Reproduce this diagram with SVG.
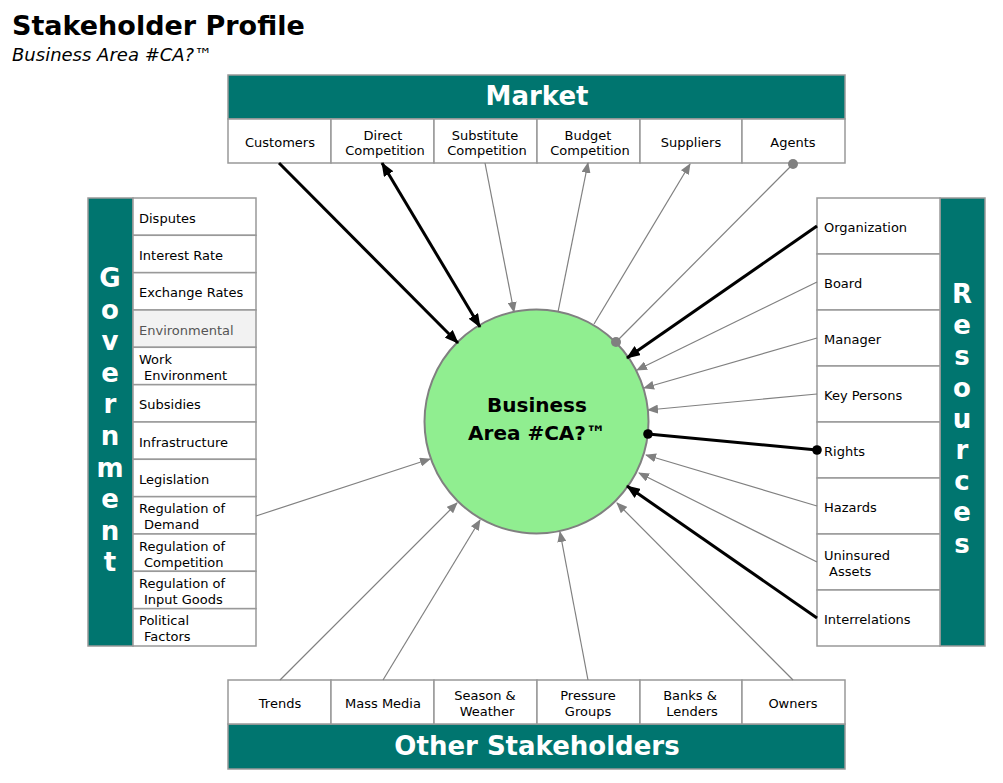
<svg xmlns="http://www.w3.org/2000/svg" width="1003" height="783" viewBox="0 0 1003 783">
<style>
text{font-family:"DejaVu Sans",Verdana,sans-serif}
.bar{fill:#00756F;stroke:#999;stroke-width:1.5}
.cell{fill:#fff;stroke:#999;stroke-width:1.5}
.cellg{fill:#f2f2f2;stroke:#999;stroke-width:1.5}
.ct{font-size:13px;fill:#000;text-anchor:middle}
.lt{font-size:13px;fill:#000}
.hd{font-size:26px;font-weight:bold;fill:#fff;text-anchor:middle}
.vt{font-size:26px;font-weight:bold;fill:#fff;text-anchor:middle}
.thin{stroke:#808080;stroke-width:1.2;fill:none}
.thick{stroke:#000;stroke-width:3;fill:none}
</style>
<defs>
<marker id="ag" markerUnits="userSpaceOnUse" markerWidth="11" markerHeight="9" refX="10" refY="4.5" orient="auto-start-reverse" viewBox="0 0 11 9"><path d="M0,0 L11,4.5 L0,9 z" fill="#808080"/></marker>
<marker id="ab" markerUnits="userSpaceOnUse" markerWidth="14" markerHeight="11" refX="13" refY="5.5" orient="auto-start-reverse" viewBox="0 0 14 11"><path d="M0,0 L14,5.5 L0,11 z" fill="#000"/></marker>
<marker id="dg" markerUnits="userSpaceOnUse" markerWidth="12" markerHeight="12" refX="6" refY="6" viewBox="0 0 12 12"><circle cx="6" cy="6" r="5" fill="#808080"/></marker>
<marker id="db" markerUnits="userSpaceOnUse" markerWidth="12" markerHeight="12" refX="6" refY="6" viewBox="0 0 12 12"><circle cx="6" cy="6" r="4.8" fill="#000"/></marker>
</defs>
<rect width="1003" height="783" fill="#fff"/>
<g id="title">
<text x="12" y="35" font-size="27" font-weight="bold" fill="#000">Stakeholder Profile</text>
<text x="12" y="61" font-size="18" font-style="italic" fill="#000">Business Area #CA?™</text>
</g>
<g id="market">
<rect class="bar" x="228" y="75" width="617" height="44"/>
<text class="hd" x="537" y="105">Market</text>
<rect class="cell" x="228" y="119" width="103" height="44"/>
<rect class="cell" x="331" y="119" width="103" height="44"/>
<rect class="cell" x="434" y="119" width="103" height="44"/>
<rect class="cell" x="537" y="119" width="103" height="44"/>
<rect class="cell" x="640" y="119" width="102" height="44"/>
<rect class="cell" x="742" y="119" width="103" height="44"/>
<text class="ct" x="280" y="147">Customers</text>
<text class="ct" x="383" y="140">Direct</text><text class="ct" x="385" y="155">Competition</text>
<text class="ct" x="485" y="140">Substitute</text><text class="ct" x="487" y="155">Competition</text>
<text class="ct" x="588" y="140">Budget</text><text class="ct" x="590" y="155">Competition</text>
<text class="ct" x="691" y="147">Suppliers</text>
<text class="ct" x="793" y="147">Agents</text>
</g>
<g id="government">
<rect class="bar" x="88" y="198" width="45" height="448"/>
<text class="vt" x="110" y="287"><tspan x="110">G</tspan><tspan x="110" dy="31.6">o</tspan><tspan x="110" dy="31.6">v</tspan><tspan x="110" dy="31.6">e</tspan><tspan x="110" dy="31.6">r</tspan><tspan x="110" dy="31.6">n</tspan><tspan x="110" dy="31.6">m</tspan><tspan x="110" dy="31.6">e</tspan><tspan x="110" dy="31.6">n</tspan><tspan x="110" dy="31.6">t</tspan></text>
<rect class="cell" x="133" y="198" width="123" height="37.3"/>
<rect class="cell" x="133" y="235.3" width="123" height="37.3"/>
<rect class="cell" x="133" y="272.7" width="123" height="37.3"/>
<rect class="cellg" x="133" y="310" width="123" height="37.3"/>
<rect class="cell" x="133" y="347.3" width="123" height="37.3"/>
<rect class="cell" x="133" y="384.7" width="123" height="37.3"/>
<rect class="cell" x="133" y="422" width="123" height="37.3"/>
<rect class="cell" x="133" y="459.3" width="123" height="37.3"/>
<rect class="cell" x="133" y="496.7" width="123" height="37.3"/>
<rect class="cell" x="133" y="534" width="123" height="37.3"/>
<rect class="cell" x="133" y="571.3" width="123" height="37.3"/>
<rect class="cell" x="133" y="608.7" width="123" height="37.3"/>
<text class="lt" x="139" y="223">Disputes</text>
<text class="lt" x="139" y="260">Interest Rate</text>
<text class="lt" x="139" y="297">Exchange Rates</text>
<text class="lt" x="139" y="335" style="fill:#555">Environmental</text>
<text class="lt" x="139" y="364">Work</text><text class="lt" x="144" y="380">Environment</text>
<text class="lt" x="139" y="409">Subsidies</text>
<text class="lt" x="139" y="447">Infrastructure</text>
<text class="lt" x="139" y="484">Legislation</text>
<text class="lt" x="139" y="513">Regulation of</text><text class="lt" x="144" y="529">Demand</text>
<text class="lt" x="139" y="551">Regulation of</text><text class="lt" x="144" y="567">Competition</text>
<text class="lt" x="139" y="588">Regulation of</text><text class="lt" x="144" y="604">Input Goods</text>
<text class="lt" x="139" y="625">Political</text><text class="lt" x="144" y="641">Factors</text>
</g>
<g id="resources">
<rect class="bar" x="940" y="198" width="45" height="448"/>
<text class="vt" x="962" y="303"><tspan x="962">R</tspan><tspan x="962" dy="31.2">e</tspan><tspan x="962" dy="31.2">s</tspan><tspan x="962" dy="31.2">o</tspan><tspan x="962" dy="31.2">u</tspan><tspan x="962" dy="31.2">r</tspan><tspan x="962" dy="31.2">c</tspan><tspan x="962" dy="31.2">e</tspan><tspan x="962" dy="31.2">s</tspan></text>
<rect class="cell" x="817" y="198" width="123" height="56"/>
<rect class="cell" x="817" y="254" width="123" height="56"/>
<rect class="cell" x="817" y="310" width="123" height="56"/>
<rect class="cell" x="817" y="366" width="123" height="56"/>
<rect class="cell" x="817" y="422" width="123" height="56"/>
<rect class="cell" x="817" y="478" width="123" height="56"/>
<rect class="cell" x="817" y="534" width="123" height="56"/>
<rect class="cell" x="817" y="590" width="123" height="56"/>
<text class="lt" x="824" y="232">Organization</text>
<text class="lt" x="824" y="288">Board</text>
<text class="lt" x="824" y="344">Manager</text>
<text class="lt" x="824" y="400">Key Persons</text>
<text class="lt" x="824" y="456">Rights</text>
<text class="lt" x="824" y="512">Hazards</text>
<text class="lt" x="824" y="560">Uninsured</text><text class="lt" x="829" y="576">Assets</text>
<text class="lt" x="824" y="624">Interrelations</text>
</g>
<g id="other-stakeholders">
<rect class="bar" x="228" y="724" width="617" height="45"/>
<text class="hd" x="537" y="755">Other Stakeholders</text>
<rect class="cell" x="228" y="680" width="103" height="44"/>
<rect class="cell" x="331" y="680" width="103" height="44"/>
<rect class="cell" x="434" y="680" width="103" height="44"/>
<rect class="cell" x="537" y="680" width="103" height="44"/>
<rect class="cell" x="640" y="680" width="102" height="44"/>
<rect class="cell" x="742" y="680" width="103" height="44"/>
<text class="ct" x="280" y="708">Trends</text>
<text class="ct" x="383" y="708">Mass Media</text>
<text class="ct" x="485" y="700">Season &amp;</text><text class="ct" x="487" y="716">Weather</text>
<text class="ct" x="588" y="700">Pressure</text><text class="ct" x="588" y="716">Groups</text>
<text class="ct" x="690" y="700">Banks &amp;</text><text class="ct" x="692" y="716">Lenders</text>
<text class="ct" x="793" y="708">Owners</text>
</g>
<g id="business-area">
<circle cx="536.5" cy="421.5" r="112" fill="#90EE90" stroke="#808080" stroke-width="2"/>
<text x="537" y="412" font-size="20" font-weight="bold" text-anchor="middle" fill="#000">Business</text>
<text x="537" y="440" font-size="20" font-weight="bold" text-anchor="middle" fill="#000">Area #CA?™</text>
</g>
<g id="connectors">
<line class="thick" x1="279" y1="163" x2="458" y2="343" marker-end="url(#ab)"/>
<line class="thick" x1="382" y1="163" x2="480" y2="327" marker-start="url(#ab)" marker-end="url(#ab)"/>
<line class="thin" x1="485" y1="163" x2="514" y2="312" marker-end="url(#ag)"/>
<line class="thin" x1="558" y1="312" x2="588" y2="163" marker-end="url(#ag)"/>
<line class="thin" x1="594" y1="324" x2="690" y2="164" marker-end="url(#ag)"/>
<line class="thin" x1="793" y1="164" x2="616" y2="342" marker-start="url(#dg)" marker-end="url(#dg)"/>
<line class="thick" x1="817" y1="226" x2="627" y2="358" marker-end="url(#ab)"/>
<line class="thin" x1="817" y1="282" x2="637" y2="370" marker-end="url(#ag)"/>
<line class="thin" x1="817" y1="338" x2="644" y2="388" marker-end="url(#ag)"/>
<line class="thin" x1="817" y1="394" x2="648" y2="410" marker-end="url(#ag)"/>
<line class="thick" x1="817" y1="450" x2="648" y2="434" marker-start="url(#db)" marker-end="url(#db)"/>
<line class="thin" x1="817" y1="506" x2="646" y2="455" marker-end="url(#ag)"/>
<line class="thin" x1="817" y1="562" x2="639" y2="473" marker-end="url(#ag)"/>
<line class="thick" x1="817" y1="618" x2="627" y2="486" marker-end="url(#ab)"/>
<line class="thin" x1="256" y1="516" x2="430" y2="459" marker-end="url(#ag)"/>
<line class="thin" x1="280" y1="680" x2="457" y2="503" marker-end="url(#ag)"/>
<line class="thin" x1="383" y1="680" x2="480" y2="520" marker-end="url(#ag)"/>
<line class="thin" x1="588" y1="680" x2="560" y2="532" marker-end="url(#ag)"/>
<line class="thin" x1="793" y1="680" x2="617" y2="503" marker-end="url(#ag)"/>
</g>
</svg>
